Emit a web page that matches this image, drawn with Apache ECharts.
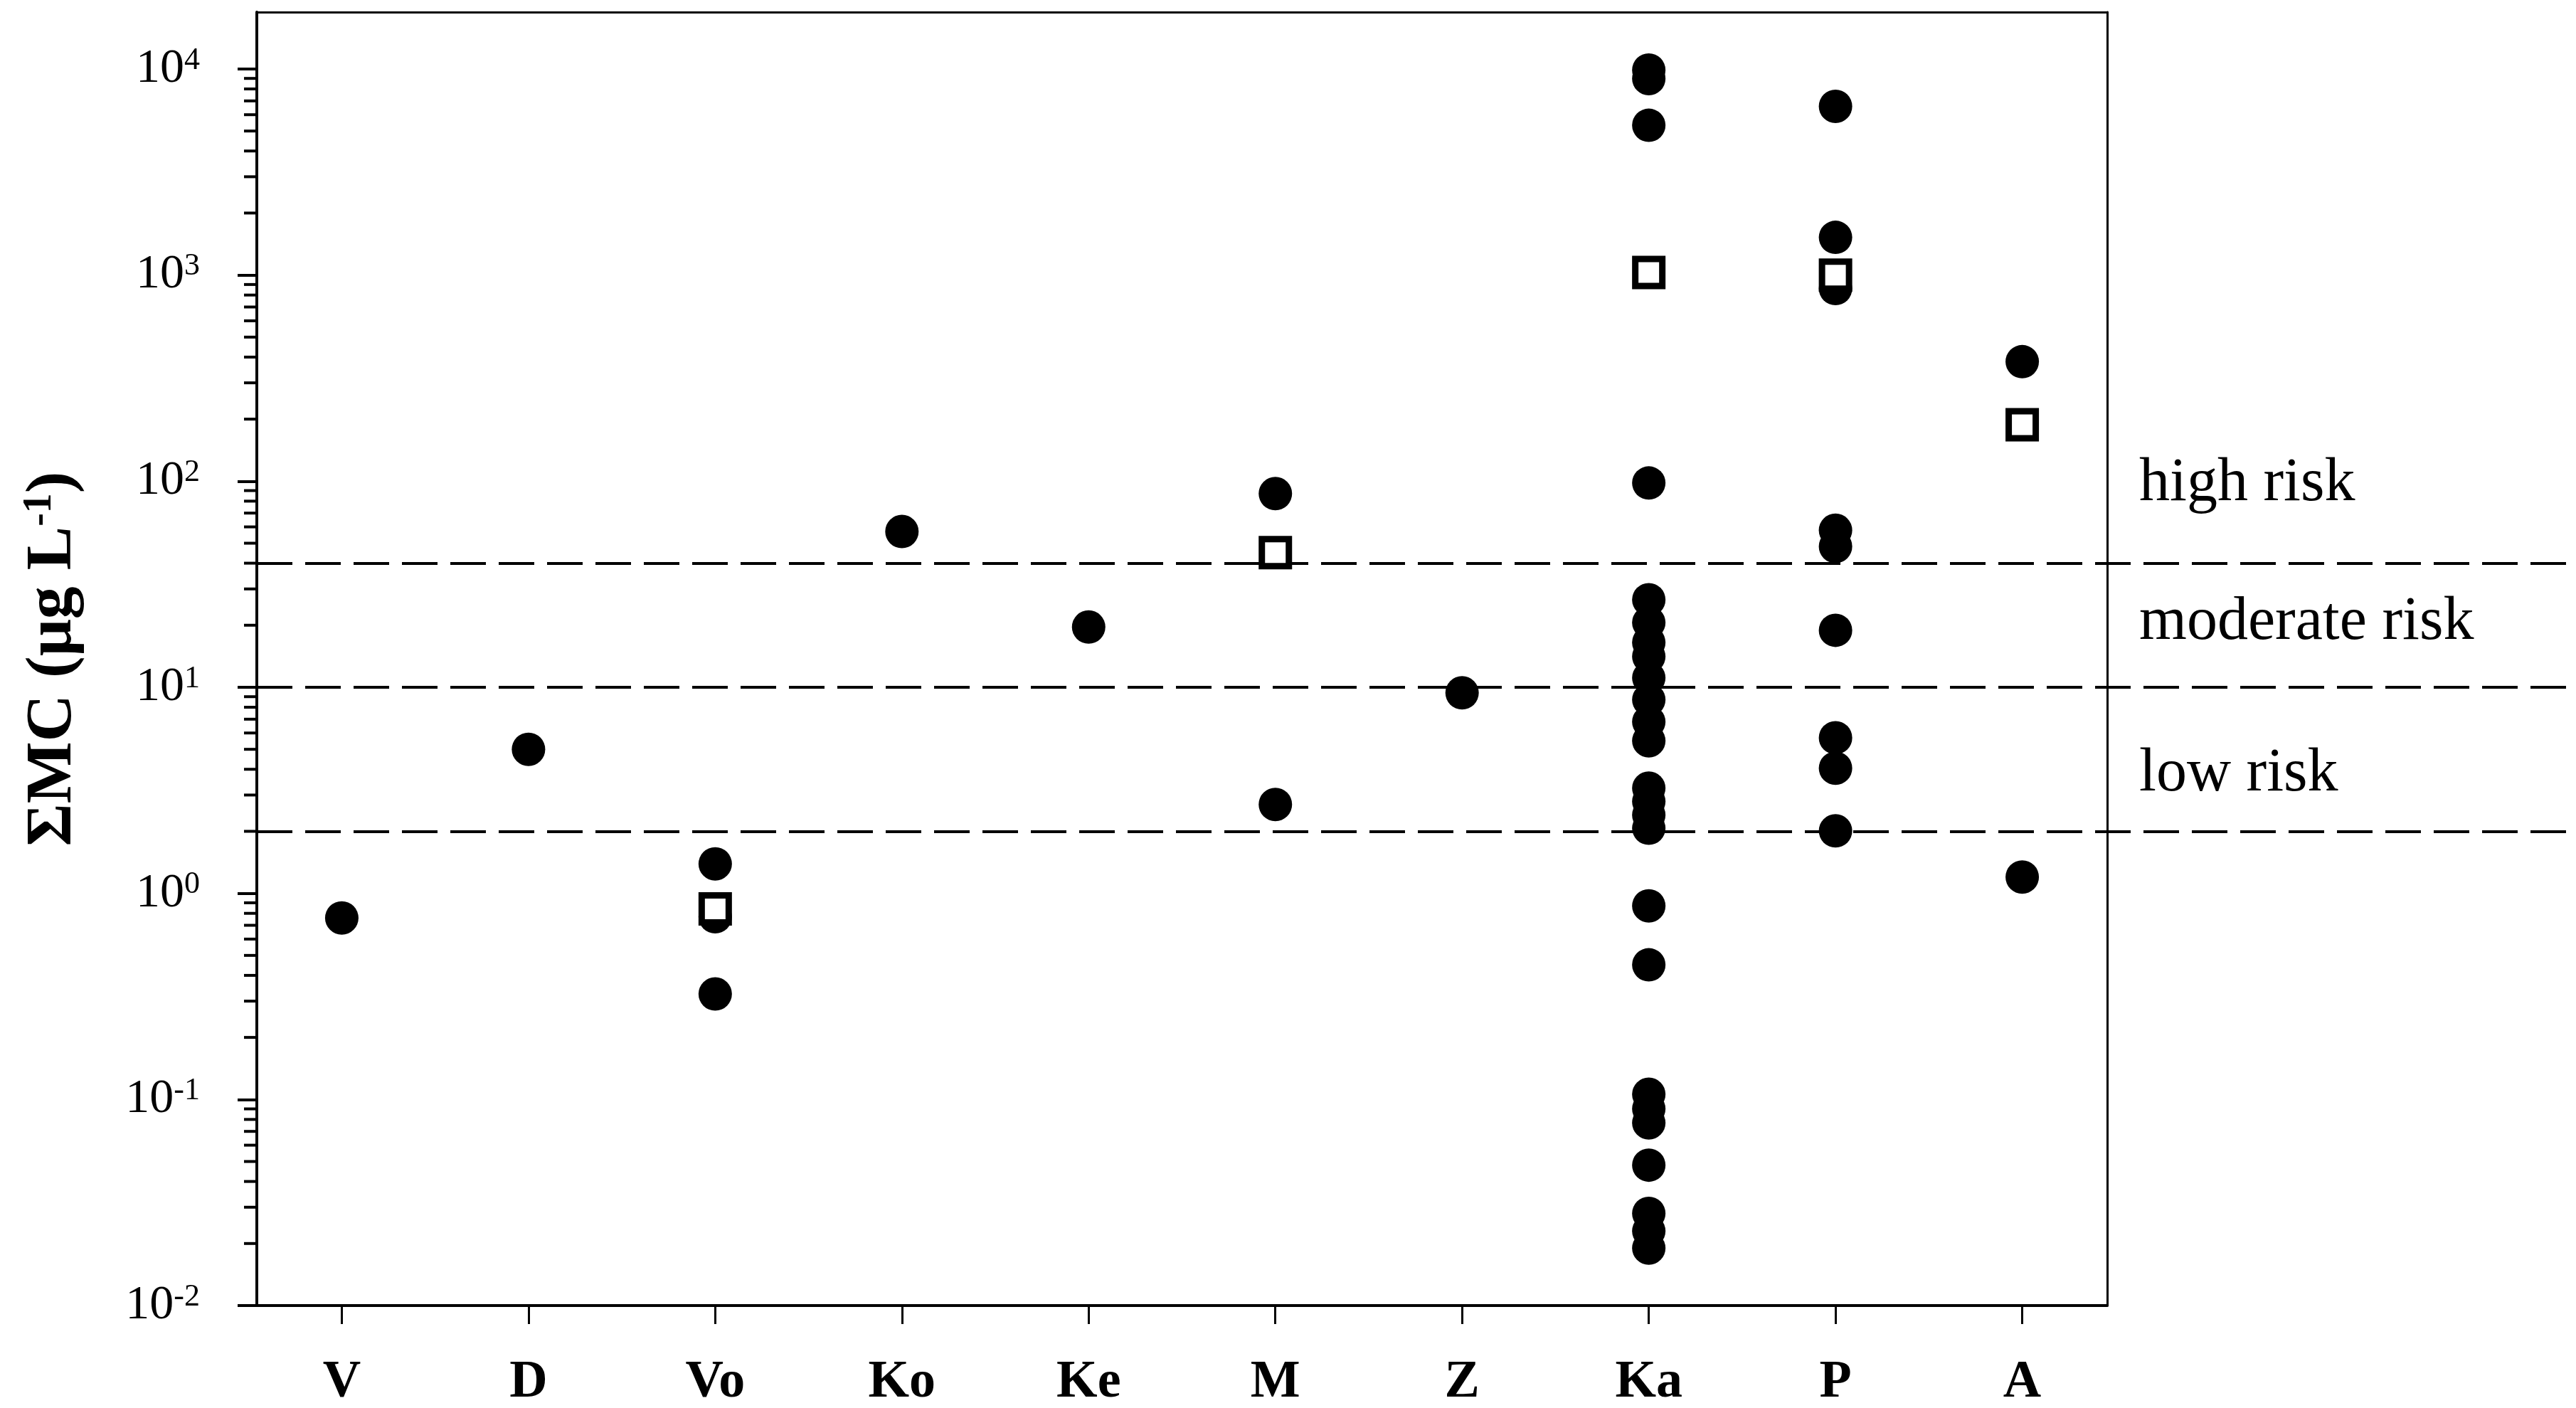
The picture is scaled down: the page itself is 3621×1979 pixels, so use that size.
<!DOCTYPE html>
<html>
<head>
<meta charset="utf-8">
<title>MC risk</title>
<script src="https://cdn.jsdelivr.net/npm/echarts@6/dist/echarts.min.js"></script>
<style>
  html, body { margin: 0; padding: 0; background: #fff; }
  #main { width: 3621px; height: 1979px; }
</style>
</head>
<body>
<div id="main"></div>
<script>
// sites on the x axis
const categories = ['V', 'D', 'Vo', 'Ko', 'Ke', 'M', 'Z', 'Ka', 'P', 'A']

// filled circles (single samples), one list per site, ug/L
const dotValues = [
  [0.76],
  [5.0],
  [1.39, 0.77, 0.325],
  [57],
  [19.6],
  [87, 2.7],
  [9.4],
  [9880, 8980, 5330, 98, 26.6, 20.6, 16.5, 14.1, 11.1, 8.7, 6.8, 5.5,
    3.24, 2.79, 2.4, 2.07, 0.87, 0.45, 0.106, 0.09, 0.077, 0.048, 0.028, 0.023, 0.019],
  [6590, 1524, 860, 57.8, 48.2, 18.9, 5.69, 4.05, 2.01],
  [380, 1.2]
]

// open squares (site mean), null = none
const squareValues = [null, null, 0.84, null, null, 45, null, 1030, 1000, 188]

// risk thresholds (dashed lines) and their labels
const riskLevels = [40, 10, 2]
const riskLabels = ['high risk', 'moderate risk', 'low risk']
const riskLabelAt = [96.5, 20.6, 3.78]

// y ticks as powers of ten
const yTickExps = [-2, -1, 0, 1, 2, 3, 4]

const W = 3621
const gridLeft = 361
const gridRight = 659
const gridTop = 17
const gridBottom = 144
const yMin = -2
const yMax = 4.276
const xMin = -0.455
const xMax = 9.455
// second grid runs to the right edge, same x units
const xMax2 = xMin + (xMax - xMin) * (W - gridLeft) / (W - gridLeft - gridRight)

const FONT = 'Liberation Serif'
const log = Math.log10

// minor ticks 2..9 in each decade
const minorTicks = []
yTickExps.forEach(function (e) {
  for (let k = 2; k <= 9; k++) {
    const v = e + log(k)
    if (v < yMax) minorTicks.push(v)
  }
})

const dotData = []
dotValues.forEach(function (list, i) {
  list.forEach(function (v) {
    dotData.push([i, log(v)])
  })
})

const squareData = []
squareValues.forEach(function (v, i) {
  if (v != null) squareData.push([i, log(v)])
})

const labelData = riskLabelAt.map(function (v) {
  return [xMax, log(v)]
})

const catIdx = categories.map(function (c, i) { return i })

// short tick to the left of the y axis, placed by the axis scale
function renderMinorTick(params, api) {
  const p = api.coord([api.value(0), api.value(1)])
  return {
    type: 'line',
    shape: { x1: p[0] - 18, y1: p[1], x2: p[0], y2: p[1] },
    style: { stroke: '#000', lineWidth: 4 }
  }
}

const chart = echarts.init(document.getElementById('main'), null, { renderer: 'canvas' })

const option = {
  backgroundColor: '#ffffff',
  animation: false,
  grid: [
    { left: gridLeft, right: gridRight, top: gridTop, bottom: gridBottom, outerBoundsMode: 'none' },
    { left: gridLeft, right: 0, top: gridTop, bottom: gridBottom, outerBoundsMode: 'none' }
  ],
  xAxis: [
    {
      type: 'value',
      gridIndex: 0,
      position: 'bottom',
      min: xMin,
      max: xMax,
      splitLine: { show: false },
      axisLine: { show: true, onZero: false, lineStyle: { color: '#000', width: 4 } },
      axisTick: {
        show: true,
        customValues: catIdx,
        length: 26,
        lineStyle: { color: '#000', width: 3 }
      },
      axisLabel: {
        customValues: catIdx,
        formatter: function (v) { return categories[Math.round(v)] },
        margin: 72,
        color: '#000',
        fontFamily: FONT,
        fontWeight: 'bold',
        fontSize: 74
      }
    },
    {
      // top frame line
      type: 'value',
      gridIndex: 0,
      position: 'top',
      min: xMin,
      max: xMax,
      splitLine: { show: false },
      axisLine: { show: true, onZero: false, lineStyle: { color: '#000', width: 3 } },
      axisTick: { show: false },
      axisLabel: { show: false }
    },
    {
      type: 'value',
      gridIndex: 1,
      min: xMin,
      max: xMax2,
      show: false
    }
  ],
  yAxis: [
    {
      type: 'value',
      gridIndex: 0,
      position: 'left',
      min: yMin,
      max: yMax,
      splitLine: { show: false },
      axisLine: { show: true, onZero: false, lineStyle: { color: '#000', width: 4 } },
      axisTick: {
        show: true,
        customValues: yTickExps,
        length: 27,
        lineStyle: { color: '#000', width: 4 }
      },
      axisLabel: {
        customValues: yTickExps,
        margin: 80,
        formatter: function (v) { return '{b|10}{e|' + Math.round(v) + '}' },
        rich: {
          b: { fontFamily: FONT, fontSize: 68, color: '#000' },
          e: { fontFamily: FONT, fontSize: 44, color: '#000', verticalAlign: 'top' }
        }
      },
      name: '{a|\u03a3MC (\u03bcg L}{s|-1}{a|)}',
      nameLocation: 'middle',
      nameGap: 240,
      nameRotate: 90,
      nameTextStyle: {
        rich: {
          a: { fontFamily: FONT, fontSize: 92, fontWeight: 'bold', color: '#000' },
          s: { fontFamily: FONT, fontSize: 56, fontWeight: 'bold', color: '#000', verticalAlign: 'top' }
        }
      }
    },
    {
      // right frame line
      type: 'value',
      gridIndex: 0,
      position: 'right',
      min: yMin,
      max: yMax,
      splitLine: { show: false },
      axisLine: { show: true, onZero: false, lineStyle: { color: '#000', width: 3 } },
      axisTick: { show: false },
      axisLabel: { show: false }
    },
    {
      type: 'value',
      gridIndex: 1,
      min: yMin,
      max: yMax,
      show: false
    }
  ],
  series: [
    {
      // risk lines across whole width + labels
      type: 'scatter',
      xAxisIndex: 2,
      yAxisIndex: 2,
      z: 1,
      symbolSize: 0,
      silent: true,
      data: labelData,
      label: {
        show: true,
        position: 'right',
        distance: 45,
        formatter: function (p) { return riskLabels[p.dataIndex] },
        fontFamily: FONT,
        fontSize: 86,
        color: '#000',
        opacity: 1
      },
      markLine: {
        silent: true,
        z: 1,
        symbol: ['none', 'none'],
        label: { show: false },
        lineStyle: { color: '#000', width: 4, type: [50, 18], opacity: 1 },
        data: riskLevels.map(function (v) { return { yAxis: log(v) } })
      }
    },
    {
      // minor log ticks on the y axis
      type: 'custom',
      xAxisIndex: 0,
      yAxisIndex: 0,
      silent: true,
      clip: false,
      z: 10,
      renderItem: renderMinorTick,
      data: minorTicks.map(function (v) { return [xMin, v] })
    },
    {
      name: 'samples',
      type: 'scatter',
      xAxisIndex: 0,
      yAxisIndex: 0,
      z: 3,
      symbol: 'circle',
      symbolSize: 47,
      itemStyle: { color: '#000', opacity: 1 },
      data: dotData
    },
    {
      name: 'mean',
      type: 'scatter',
      xAxisIndex: 0,
      yAxisIndex: 0,
      z: 4,
      symbol: 'rect',
      symbolSize: 38,
      itemStyle: { color: '#fff', borderColor: '#000', borderWidth: 9, opacity: 1 },
      data: squareData
    }
  ]
}

chart.setOption(option)
</script>
</body>
</html>
